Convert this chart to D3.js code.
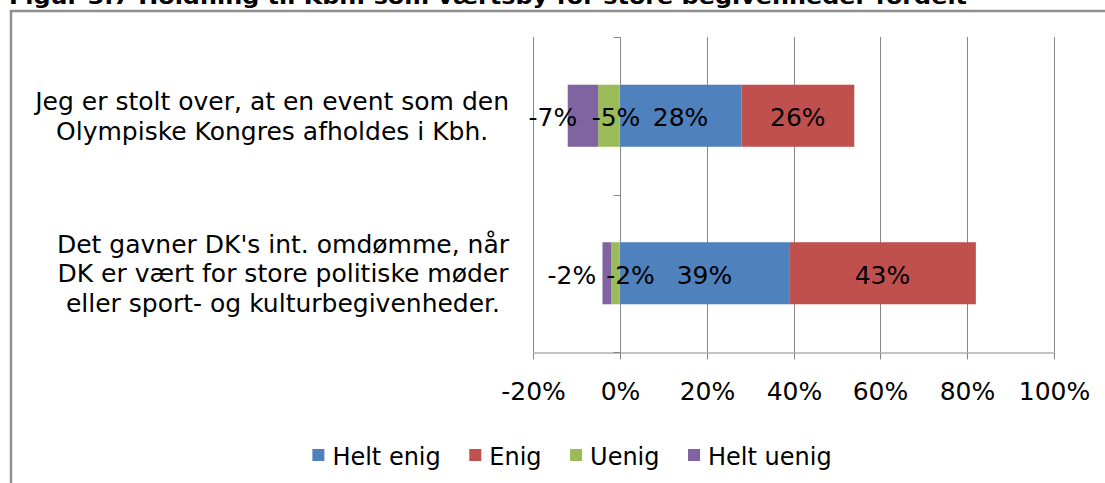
<!DOCTYPE html>
<html>
<head>
<meta charset="utf-8">
<script src="https://cdn.jsdelivr.net/npm/d3@7"></script>
<style>
  html, body { margin: 0; padding: 0; background: #ffffff; overflow: hidden; }
  svg { display: block; font-family: "DejaVu Sans", Verdana, sans-serif; }
</style>
</head>
<body>
<svg id="chart" width="1105" height="483"></svg>
<script>
// ---- data ----
const titleText = "Figur 3.7 Holdning til Kbh. som værtsby for store begivenheder fordelt";
const categories = ["Stolt over Olympisk Kongres", "Gavner DK's omdømme"];
const categoryLines = [
  ["Jeg er stolt over, at en event som den", "Olympiske Kongres afholdes i Kbh."],
  ["Det gavner DK's int. omdømme, når", "DK er vært for store politiske møder", "eller sport- og kulturbegivenheder."]
];
const seriesNames = ["Helt enig", "Enig", "Uenig", "Helt uenig"];
const heltEnig = [28, 39];
const enig = [26, 43];
const uenig = [-5, -2];
const heltUenig = [-7, -2];
const tickValues = [-20, 0, 20, 40, 60, 80, 100];

// ---- styles ----
const colors = { "Helt enig": "#4F81BD", "Enig": "#C0504D", "Uenig": "#9BBB59", "Helt uenig": "#8064A2" };
const labelNudge = { "Helt enig": [0, 0], "Enig": [0, 0], "Uenig": [7, 15], "Helt uenig": [-30, -35] };
const gridColor = "#878787";

const seriesValues = [heltEnig, enig, uenig, heltUenig];
const rows = categories.map((c, i) => {
  const r = { category: c };
  seriesNames.forEach((s, k) => { r[s] = seriesValues[k][i]; });
  return r;
});

const svg = d3.select("#chart");

// outer frame
svg.append("rect")
  .attr("x", 11).attr("y", 11).attr("width", 1200).attr("height", 600)
  .attr("fill", "none").attr("stroke", "#8f8f8f").attr("stroke-width", 2.5);

// title (mostly cut off at the top)
svg.append("text")
  .attr("x", 9).attr("y", 4)
  .attr("font-weight", "bold").attr("font-size", 21)
  .attr("textLength", 958).attr("lengthAdjust", "spacingAndGlyphs")
  .attr("fill", "#000").text(titleText);

const x = d3.scaleLinear().domain([-20, 100]).range([533, 1054]);
const y = d3.scaleBand().domain(categories).range([37, 352])
  .paddingInner(0.606).paddingOuter(0.303);

// vertical gridlines
svg.append("g").selectAll("line").data(tickValues).join("line")
  .attr("x1", d => Math.round(x(d)) + 0.5).attr("x2", d => Math.round(x(d)) + 0.5)
  .attr("y1", 37).attr("y2", 352)
  .attr("stroke", gridColor).attr("stroke-width", 1);

// x axis
const xAxis = svg.append("g")
  .attr("transform", "translate(0,352.5)")
  .call(d3.axisBottom(x).tickValues(tickValues).tickSize(7).tickSizeOuter(0)
    .tickFormat(d => d + "%"));
xAxis.select(".domain").attr("stroke", gridColor);
xAxis.selectAll(".tick line").attr("stroke", gridColor);
xAxis.selectAll(".tick text")
  .attr("font-family", "DejaVu Sans, Verdana, sans-serif")
  .attr("font-size", 25).attr("fill", "#000").attr("dy", null).attr("y", 47.5);
xAxis.selectAll(".tick").attr("transform", d => `translate(${Math.round(x(d)) + 0.5},0)`);

// category axis at 0 with outside tick marks
const x0 = Math.round(x(0)) + 0.5;
svg.append("line").attr("x1", x0).attr("x2", x0).attr("y1", 37).attr("y2", 352)
  .attr("stroke", gridColor);
const catTicks = [y.range()[0], (y.range()[0] + y.range()[1]) / 2, y.range()[1]];
svg.append("g").selectAll("line").data(catTicks).join("line")
  .attr("x1", x0 - 7).attr("x2", x0).attr("y1", d => Math.round(d) + 0.5).attr("y2", d => Math.round(d) + 0.5)
  .attr("stroke", gridColor);

// stacked bars
const stack = d3.stack().keys(seriesNames).offset(d3.stackOffsetDiverging);
const stacked = stack(rows);

const barG = svg.append("g");
stacked.forEach(layer => {
  barG.append("g").selectAll("rect").data(layer).join("rect")
    .attr("x", d => x(Math.min(d[0], d[1])))
    .attr("width", d => Math.abs(x(d[1]) - x(d[0])))
    .attr("y", d => y(d.data.category))
    .attr("height", y.bandwidth())
    .attr("fill", colors[layer.key]);
});

// data labels
const labG = svg.append("g");
stacked.forEach(layer => {
  labG.append("g").selectAll("text").data(layer).join("text")
    .attr("x", (d, i) => (x(d[0]) + x(d[1])) / 2 + labelNudge[layer.key][i])
    .attr("y", d => y(d.data.category) + y.bandwidth() / 2 + 10.5)
    .attr("text-anchor", "middle")
    .attr("font-size", 25).attr("fill", "#000")
    .text(d => d.data[layer.key] + "%");
});

// category labels: block right-aligned near axis, lines centered in block
const lineH = 29.8;
const blockRight = 509;
categories.forEach((c, i) => {
  const lines = categoryLines[i];
  const g = svg.append("g");
  const cy = y(c) + y.bandwidth() / 2;
  const texts = g.selectAll("text").data(lines).join("text")
    .attr("y", (d, k) => cy + (k - (lines.length - 1) / 2) * lineH + 9.2)
    .attr("text-anchor", "middle")
    .attr("font-size", 25).attr("fill", "#000")
    .text(d => d);
  let maxW = 0;
  texts.each(function () { maxW = Math.max(maxW, this.getComputedTextLength()); });
  texts.attr("x", blockRight - maxW / 2);
});

// legend
const legendCenter = 572;
const lg = svg.append("g");
const items = lg.selectAll("g").data(seriesNames).join("g");
items.append("rect").attr("width", 12).attr("height", 12).attr("y", 449)
  .attr("fill", d => colors[d]);
items.append("text").attr("y", 465).attr("font-size", 24).attr("fill", "#000").text(d => d);
let cursor = 0;
const pos = [];
items.each(function () {
  const w = d3.select(this).select("text").node().getComputedTextLength();
  pos.push(cursor);
  cursor += 12 + 8 + w + 28.5;
});
const totalW = cursor - 28.5;
const startX = legendCenter - totalW / 2;
items.each(function (d, i) {
  const g = d3.select(this);
  g.select("rect").attr("x", startX + pos[i]);
  g.select("text").attr("x", startX + pos[i] + 20);
});
</script>
</body>
</html>
